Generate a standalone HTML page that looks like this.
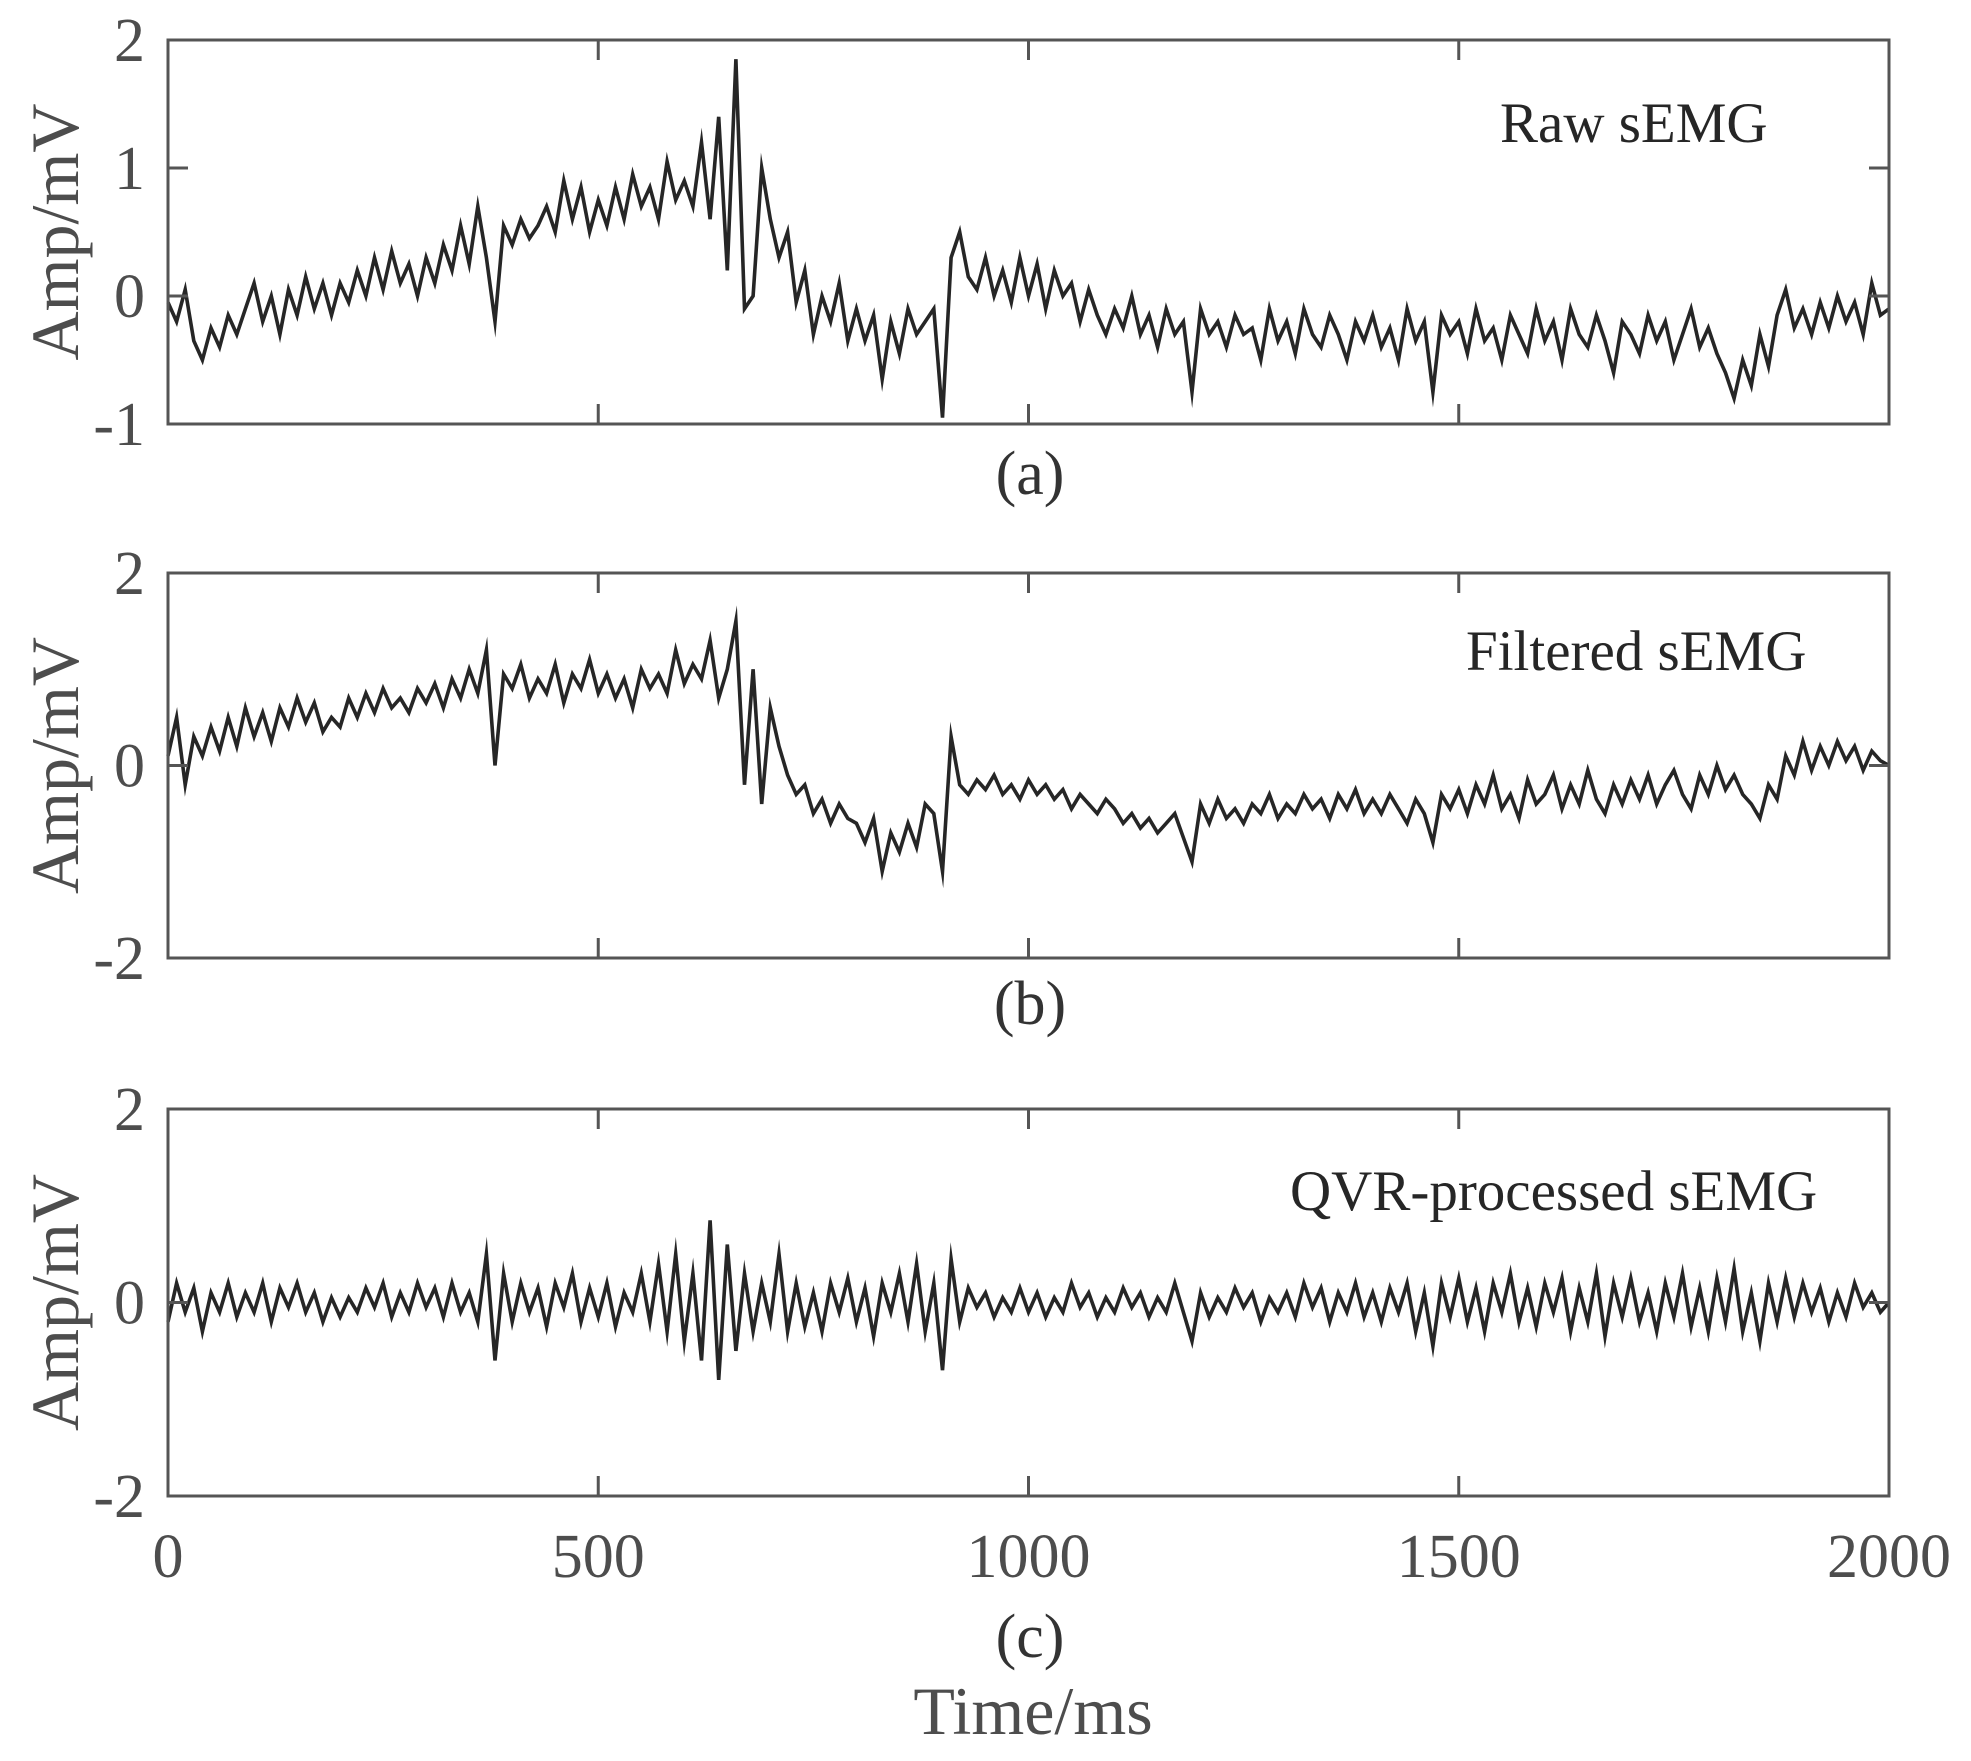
<!DOCTYPE html>
<html><head><meta charset="utf-8"><style>
html,body{margin:0;padding:0;background:#fff;}
svg{display:block;}
text{font-family:"Liberation Serif",serif;}
</style></head><body>
<svg id="chart" width="1971" height="1761" viewBox="0 0 1971 1761" xmlns="http://www.w3.org/2000/svg">
<rect width="1971" height="1761" fill="#fff"/>
</svg>
<script>
const xTicks = [0, 500, 1000, 1500, 2000];
const xTickLabels = ["0", "500", "1000", "1500", "2000"];
const stepMs = 10;
const rawValues = [
-0.05,-0.2,0.05,-0.35,-0.5,-0.25,-0.4,-0.15,-0.3,-0.1,
0.1,-0.2,0.0,-0.3,0.05,-0.15,0.15,-0.1,0.1,-0.15,
0.1,-0.05,0.2,0.0,0.3,0.05,0.35,0.1,0.25,0.0,
0.3,0.1,0.4,0.2,0.55,0.25,0.7,0.3,-0.2,0.55,
0.4,0.6,0.45,0.55,0.7,0.5,0.9,0.6,0.85,0.5,
0.75,0.55,0.85,0.6,0.95,0.7,0.85,0.6,1.05,0.75,
0.9,0.7,1.2,0.6,1.4,0.2,1.85,-0.1,0.0,1.0,
0.6,0.3,0.5,-0.05,0.2,-0.3,0.0,-0.2,0.1,-0.35,
-0.1,-0.35,-0.15,-0.65,-0.2,-0.45,-0.1,-0.3,-0.2,-0.1,
-0.95,0.3,0.5,0.15,0.05,0.3,0.0,0.2,-0.05,0.3,
0.0,0.25,-0.1,0.2,0.0,0.1,-0.2,0.05,-0.15,-0.3,
-0.1,-0.25,0.0,-0.3,-0.15,-0.4,-0.1,-0.3,-0.2,-0.75,
-0.1,-0.3,-0.2,-0.4,-0.15,-0.3,-0.25,-0.5,-0.1,-0.35,
-0.2,-0.45,-0.1,-0.3,-0.4,-0.15,-0.3,-0.5,-0.2,-0.35,
-0.15,-0.4,-0.25,-0.5,-0.1,-0.35,-0.2,-0.75,-0.15,-0.3,
-0.2,-0.45,-0.1,-0.35,-0.25,-0.5,-0.15,-0.3,-0.45,-0.1,
-0.35,-0.2,-0.5,-0.1,-0.3,-0.4,-0.15,-0.35,-0.6,-0.2,
-0.3,-0.45,-0.15,-0.35,-0.2,-0.5,-0.3,-0.1,-0.4,-0.25,
-0.45,-0.6,-0.8,-0.5,-0.7,-0.3,-0.55,-0.15,0.05,-0.25,
-0.1,-0.3,-0.05,-0.25,0.0,-0.2,-0.05,-0.3,0.1,-0.15,
-0.1];
const filteredValues = [
0.1,0.5,-0.2,0.3,0.1,0.4,0.15,0.5,0.2,0.6,
0.3,0.55,0.25,0.6,0.4,0.7,0.45,0.65,0.35,0.5,
0.4,0.7,0.5,0.75,0.55,0.8,0.6,0.7,0.55,0.8,
0.65,0.85,0.6,0.9,0.7,1.0,0.75,1.2,0.0,0.95,
0.8,1.05,0.7,0.9,0.75,1.05,0.65,0.95,0.8,1.1,
0.75,0.95,0.7,0.9,0.6,1.0,0.8,0.95,0.75,1.2,
0.85,1.05,0.9,1.3,0.7,1.0,1.5,-0.2,1.0,-0.4,
0.6,0.2,-0.1,-0.3,-0.2,-0.5,-0.35,-0.6,-0.4,-0.55,
-0.6,-0.8,-0.55,-1.1,-0.7,-0.9,-0.6,-0.85,-0.4,-0.5,
-1.1,0.3,-0.2,-0.3,-0.15,-0.25,-0.1,-0.3,-0.2,-0.35,
-0.15,-0.3,-0.2,-0.35,-0.25,-0.45,-0.3,-0.4,-0.5,-0.35,
-0.45,-0.6,-0.5,-0.65,-0.55,-0.7,-0.6,-0.5,-0.75,-1.0,
-0.4,-0.6,-0.35,-0.55,-0.45,-0.6,-0.4,-0.5,-0.3,-0.55,
-0.4,-0.5,-0.3,-0.45,-0.35,-0.55,-0.3,-0.45,-0.25,-0.5,
-0.35,-0.5,-0.3,-0.45,-0.6,-0.35,-0.5,-0.8,-0.3,-0.45,
-0.25,-0.5,-0.2,-0.4,-0.1,-0.45,-0.3,-0.55,-0.15,-0.4,
-0.3,-0.1,-0.45,-0.2,-0.4,-0.05,-0.35,-0.5,-0.2,-0.4,
-0.15,-0.35,-0.1,-0.4,-0.2,-0.05,-0.3,-0.45,-0.1,-0.3,
0.0,-0.25,-0.1,-0.3,-0.4,-0.55,-0.2,-0.35,0.1,-0.1,
0.25,-0.05,0.2,0.0,0.25,0.05,0.2,-0.05,0.15,0.05,
0.0];
const qvrValues = [
-0.2,0.2,-0.1,0.15,-0.3,0.1,-0.1,0.2,-0.15,0.1,
-0.1,0.2,-0.2,0.15,-0.05,0.2,-0.1,0.1,-0.2,0.05,
-0.15,0.05,-0.1,0.15,-0.05,0.2,-0.15,0.1,-0.1,0.2,
-0.05,0.15,-0.15,0.2,-0.1,0.1,-0.2,0.5,-0.6,0.3,
-0.2,0.2,-0.1,0.15,-0.25,0.2,-0.05,0.3,-0.2,0.15,
-0.15,0.2,-0.25,0.1,-0.1,0.3,-0.2,0.4,-0.3,0.5,
-0.4,0.3,-0.6,0.85,-0.8,0.6,-0.5,0.3,-0.3,0.2,
-0.2,0.5,-0.3,0.2,-0.25,0.1,-0.3,0.2,-0.1,0.25,
-0.2,0.15,-0.35,0.2,-0.1,0.3,-0.2,0.4,-0.3,0.2,
-0.7,0.45,-0.2,0.15,-0.05,0.1,-0.15,0.05,-0.1,0.15,
-0.1,0.1,-0.15,0.05,-0.1,0.2,-0.05,0.1,-0.15,0.05,
-0.1,0.15,-0.05,0.1,-0.15,0.05,-0.1,0.2,-0.1,-0.4,
0.1,-0.15,0.05,-0.1,0.15,-0.05,0.1,-0.2,0.05,-0.1,
0.1,-0.15,0.2,-0.05,0.15,-0.2,0.1,-0.1,0.2,-0.15,
0.1,-0.2,0.15,-0.1,0.2,-0.3,0.1,-0.45,0.2,-0.15,
0.25,-0.2,0.15,-0.3,0.2,-0.1,0.3,-0.2,0.15,-0.25,
0.2,-0.1,0.25,-0.3,0.15,-0.2,0.3,-0.35,0.2,-0.15,
0.25,-0.2,0.1,-0.3,0.2,-0.15,0.3,-0.25,0.15,-0.3,
0.25,-0.2,0.35,-0.3,0.1,-0.4,0.2,-0.2,0.25,-0.15,
0.2,-0.1,0.15,-0.2,0.1,-0.15,0.2,-0.05,0.1,-0.1,
0.0];
const yTicksA = [-1, 0, 1, 2];
const yTicksB = [-2, 0, 2];
const yTicksC = [-2, 0, 2];

const NS = "http://www.w3.org/2000/svg";
const svg = document.getElementById('chart');
const AX = "#555555";
const X0 = 168, X1 = 1889;
function xScale(t){ return X0 + (t - 0) / 2000 * (X1 - X0); }

function mk(tag, attrs, parent){
  const e = document.createElementNS(NS, tag);
  for (const k in attrs) e.setAttribute(k, attrs[k]);
  (parent || svg).appendChild(e);
  return e;
}

const panels = [
  {id:'a', top:40, bottom:424, ymin:-1, ymax:2, ticks:yTicksA, data:rawValues, label:'Raw sEMG', lx:1500, ly:142, cap:'(a)', capY:494, xlabels:false},
  {id:'b', top:573, bottom:958, ymin:-2, ymax:2, ticks:yTicksB, data:filteredValues, label:'Filtered sEMG', lx:1466, ly:670, cap:'(b)', capY:1024, xlabels:false},
  {id:'c', top:1109, bottom:1496, ymin:-2, ymax:2, ticks:yTicksC, data:qvrValues, label:'QVR-processed sEMG', lx:1290, ly:1210, cap:'(c)', capY:1657, xlabels:true}
];

panels.forEach(p => {
  const g = mk('g', {});
  
  
  const yScale = v => p.bottom - (v - p.ymin) / (p.ymax - p.ymin) * (p.bottom - p.top);

  let d = '';
  p.data.forEach((v, i) => { d += (i ? 'L' : 'M') + xScale(i * stepMs).toFixed(1) + ' ' + yScale(v).toFixed(1); });
  const line = mk('path', {d: d, fill:'none', stroke:'#262626', 'stroke-width':3.6, 'stroke-linejoin':'miter', 'stroke-miterlimit':10}, g);
  
  

  const frame = mk('rect', {x:X0, y:p.top, width:X1-X0, height:p.bottom-p.top, fill:'none', stroke:AX, 'stroke-width':3}, g);
  
  

  p.ticks.forEach(t => {
    const y = yScale(t);
    if (t !== p.ymin && t !== p.ymax) {
      const tl = mk('line', {x1:X0, x2:X0+20, y1:y, y2:y, stroke:AX, 'stroke-width':3}, g);
      
      
      const tr = mk('line', {x1:X1, x2:X1-20, y1:y, y2:y, stroke:AX, 'stroke-width':3}, g);
      
      
    }
    const lab = mk('text', {x:145, y:y+21, 'text-anchor':'end', 'font-size':62, fill:'#4d4d4d'}, g);
    lab.textContent = String(t);
    
    
  });

  xTicks.forEach((t, i) => {
    const x = xScale(t);
    if (t > 0 && t < 2000) {
      const tb = mk('line', {x1:x, x2:x, y1:p.bottom, y2:p.bottom-20, stroke:AX, 'stroke-width':3}, g);
      
      
      const tt = mk('line', {x1:x, x2:x, y1:p.top, y2:p.top+20, stroke:AX, 'stroke-width':3}, g);
      
      
    }
    if (p.xlabels) {
      const xl = mk('text', {x:x, y:1577, 'text-anchor':'middle', 'font-size':62, fill:'#4d4d4d'}, g);
      xl.textContent = xTickLabels[i];
      
      
    }
  });

  const cy = (p.top + p.bottom) / 2;
  const yt = mk('text', {x:0, y:0, transform:'translate(78,' + cy + ') rotate(-90)', 'text-anchor':'middle', 'font-size':68, fill:'#4d4d4d'}, g);
  yt.textContent = 'Amp/mV';
  
  

  const sl = mk('text', {x:p.lx, y:p.ly, 'font-size':57, fill:'#262626'}, g);
  sl.textContent = p.label;
  
  

  const cp = mk('text', {x:1030, y:p.capY, 'text-anchor':'middle', 'font-size':62, fill:'#333'}, g);
  cp.textContent = p.cap;
  
  
});

const xt = mk('text', {x:1033, y:1734, 'text-anchor':'middle', 'font-size':68, fill:'#4d4d4d'});
xt.textContent = 'Time/ms';


</script>
</body></html>
